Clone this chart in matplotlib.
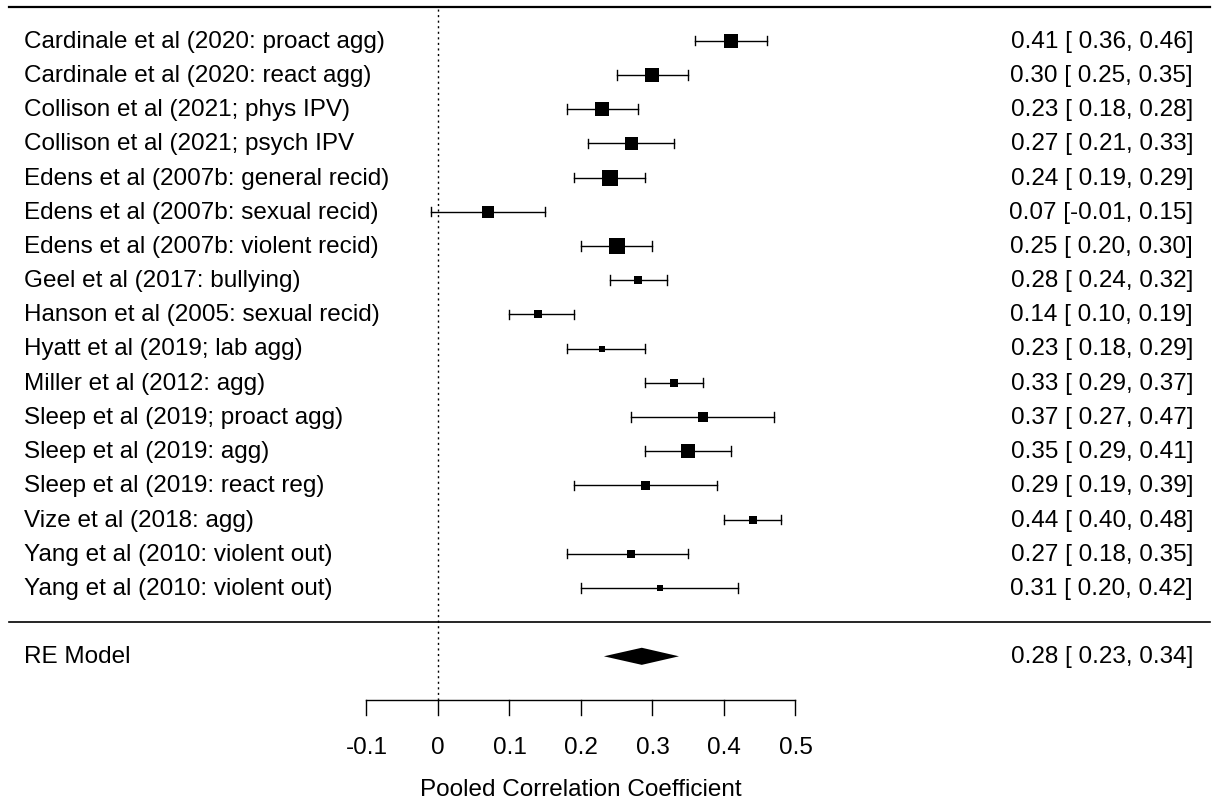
import matplotlib
matplotlib.use("Agg")
import matplotlib.pyplot as plt
import numpy as np

plt.rcParams['font.family'] = ['Liberation Sans', 'DejaVu Sans']

studies = [
    "Cardinale et al (2020: proact agg)",
    "Cardinale et al (2020: react agg)",
    "Collison et al (2021; phys IPV)",
    "Collison et al (2021; psych IPV",
    "Edens et al (2007b: general recid)",
    "Edens et al (2007b: sexual recid)",
    "Edens et al (2007b: violent recid)",
    "Geel et al (2017: bullying)",
    "Hanson et al (2005: sexual recid)",
    "Hyatt et al (2019; lab agg)",
    "Miller et al (2012: agg)",
    "Sleep et al (2019; proact agg)",
    "Sleep et al (2019: agg)",
    "Sleep et al (2019: react reg)",
    "Vize et al (2018: agg)",
    "Yang et al (2010: violent out)",
    "Yang et al (2010: violent out)",
]
est = [0.41, 0.30, 0.23, 0.27, 0.24, 0.07, 0.25, 0.28, 0.14, 0.23, 0.33, 0.37, 0.35, 0.29, 0.44, 0.27, 0.31]
lower = [0.36, 0.25, 0.18, 0.21, 0.19, -0.01, 0.20, 0.24, 0.10, 0.18, 0.29, 0.27, 0.29, 0.19, 0.40, 0.18, 0.20]
upper = [0.46, 0.35, 0.28, 0.33, 0.29, 0.15, 0.30, 0.32, 0.19, 0.29, 0.37, 0.47, 0.41, 0.39, 0.48, 0.35, 0.42]
weights = [14.3, 13.7, 13.3, 13.0, 16.3, 12.3, 16.7, 7.7, 7.7, 6.7, 8.0, 9.3, 14.7, 9.0, 7.7, 8.3, 6.0]

re_est, re_lo, re_hi = 0.285, 0.232, 0.337
re_label = "0.28 [ 0.23, 0.34]"
xticks = [-0.1, 0, 0.1, 0.2, 0.3, 0.4, 0.5]
xticklabels = ["-0.1", "0", "0.1", "0.2", "0.3", "0.4", "0.5"]

k = len(studies)
rows = np.arange(k, 0, -1)

fig = plt.figure(figsize=(12.14, 8.03), dpi=100)
ax = fig.add_axes([0, 0, 1, 1])
ax.set_xlim(-438 / 715.0, (1214 - 438) / 715.0)
ax.set_ylim(17 - (803 - 41.7) / 34.2, 17 + 41.7 / 34.2)
ax.axis('off')

fs = 17.5
axis_row = -2.28
xl, xr = -0.6006, 1.0797

# horizontal rules
ax.plot([xl, xr], [k + 1, k + 1], color='black', lw=1.6)
ax.plot([xl, xr], [0, 0], color='black', lw=1.2)
# reference line at 0
ax.plot([0, 0], [axis_row, k + 1], color='black', lw=1.0, ls=(0, (1.5, 2.5)))

cap = 0.14
for r, name, e, lo, hi, w in zip(rows, studies, est, lower, upper, weights):
    ax.plot([lo, hi], [r, r], color='black', lw=1.0)
    ax.plot([lo, lo], [r - cap, r + cap], color='black', lw=1.0)
    ax.plot([hi, hi], [r - cap, r + cap], color='black', lw=1.0)
    ax.plot([e], [r], marker='s', color='black', ms=w * 0.72, mew=0, ls='none')
    ax.text(-0.579, r, name, ha='left', va='center', fontsize=fs)
    lo_txt = "%.2f" % lo if lo < 0 else " %.2f" % lo
    lab = "%.2f [%s, %.2f]" % (e, lo_txt, hi)
    ax.text(1.056, r, lab, ha='right', va='center', fontsize=fs)

# summary diamond
dh = 0.25
ax.fill([re_lo, re_est, re_hi, re_est], [-1, -1 + dh, -1, -1 - dh], color='black', lw=0)
ax.text(-0.579, -1, "RE Model", ha='left', va='center', fontsize=fs)
ax.text(1.056, -1, re_label, ha='right', va='center', fontsize=fs)

# x axis
tick_len = 0.45
ax.plot([xticks[0], xticks[-1]], [axis_row, axis_row], color='black', lw=1.0)
for t, tl in zip(xticks, xticklabels):
    ax.plot([t, t], [axis_row, axis_row - tick_len], color='black', lw=1.0)
    ax.text(t, axis_row - 1.38, tl, ha='center', va='center', fontsize=fs)
ax.text(0.2, axis_row - 2.6, "Pooled Correlation Coefficient", ha='center', va='center', fontsize=fs)

fig.savefig("out.png", dpi=100, facecolor='white')
